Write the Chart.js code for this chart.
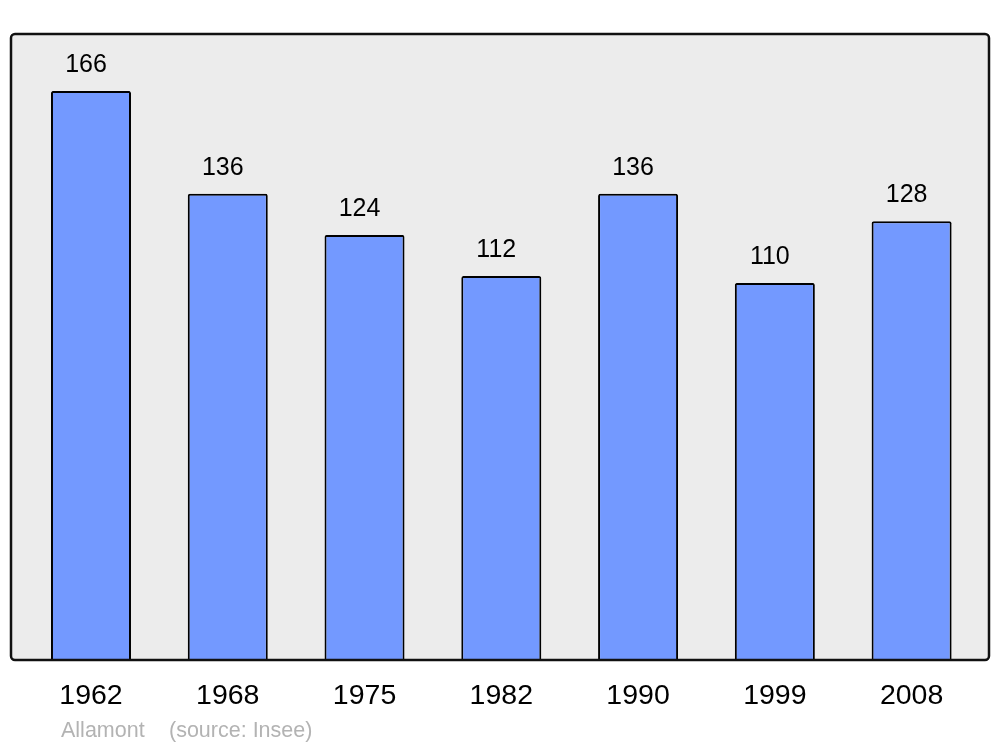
<!DOCTYPE html>
<html>
<head>
<meta charset="utf-8">
<script src="https://cdn.jsdelivr.net/npm/chart.js@4.4.0/dist/chart.umd.min.js"></script>
<style>
  html, body { margin: 0; padding: 0; background: #ffffff; }
  #wrap { width: 1000px; height: 747px; }
</style>
</head>
<body>
<div id="wrap"><canvas id="grafico" width="1000" height="747"></canvas></div>
<script>
// dati della popolazione
const anni = ["1962", "1968", "1975", "1982", "1990", "1999", "2008"];
const abitanti = [166, 136, 124, 112, 136, 110, 128];
const nomeComune = "Allamont";
const fonte = "(source: Insee)";

// riquadro grigio dietro le barre + etichette
const cornice = {
  id: "cornice",
  beforeDatasetsDraw(chart) {
    const ctx = chart.ctx;
    ctx.save();
    ctx.fillStyle = "#ececec";
    ctx.beginPath();
    ctx.roundRect(11, 34, 978, 626, 4);
    ctx.fill();
    ctx.restore();
  },
  afterDatasetsDraw(chart) {
    const ctx = chart.ctx;
    ctx.save();
    ctx.strokeStyle = "#111111";
    ctx.lineWidth = 2.5;
    ctx.beginPath();
    ctx.roundRect(11, 34, 978, 626, 4);
    ctx.stroke();

    // valori sopra le barre (leggermente spostati a sinistra come nell'originale)
    const meta = chart.getDatasetMeta(0);
    ctx.fillStyle = "#000000";
    ctx.font = "25px 'Liberation Sans', Arial, sans-serif";
    ctx.textAlign = "center";
    ctx.textBaseline = "alphabetic";
    meta.data.forEach(function (bar, i) {
      ctx.fillText(String(abitanti[i]), bar.x - 5, bar.y - 19);
    });

    // nome e fonte
    ctx.fillStyle = "#b3b3b3";
    ctx.font = "21.5px 'Liberation Sans', Arial, sans-serif";
    ctx.textAlign = "left";
    ctx.fillText(nomeComune, 61, 737);
    ctx.fillText(fonte, 169, 737);
    ctx.restore();
  },
};

const ctx = document.getElementById("grafico").getContext("2d");
const grafico = new Chart(ctx, {
  type: "bar",
  data: {
    labels: anni,
    datasets: [
      {
        data: abitanti,
        backgroundColor: "#7399ff",
        borderColor: "#000000",
        borderWidth: 2,
        borderRadius: 2,
        borderSkipped: "bottom",
        barPercentage: 0.585,
        categoryPercentage: 1,
      },
    ],
  },
  options: {
    responsive: false,
    animation: false,
    layout: { padding: { top: 34, left: 22.6, right: 20, bottom: 0 } },
    plugins: {
      legend: { display: false },
      tooltip: { enabled: false },
    },
    scales: {
      y: { display: false, min: 0, max: 182.6 },
      x: {
        grid: { display: false, drawTicks: false },
        border: { display: false },
        ticks: {
          color: "#000000",
          padding: 19,
          font: { size: 28.5, family: "'Liberation Sans', Arial, sans-serif" },
        },
        afterFit(axis) {
          axis.height = 87;
        },
      },
    },
  },
  plugins: [cornice],
});
</script>
</body>
</html>
